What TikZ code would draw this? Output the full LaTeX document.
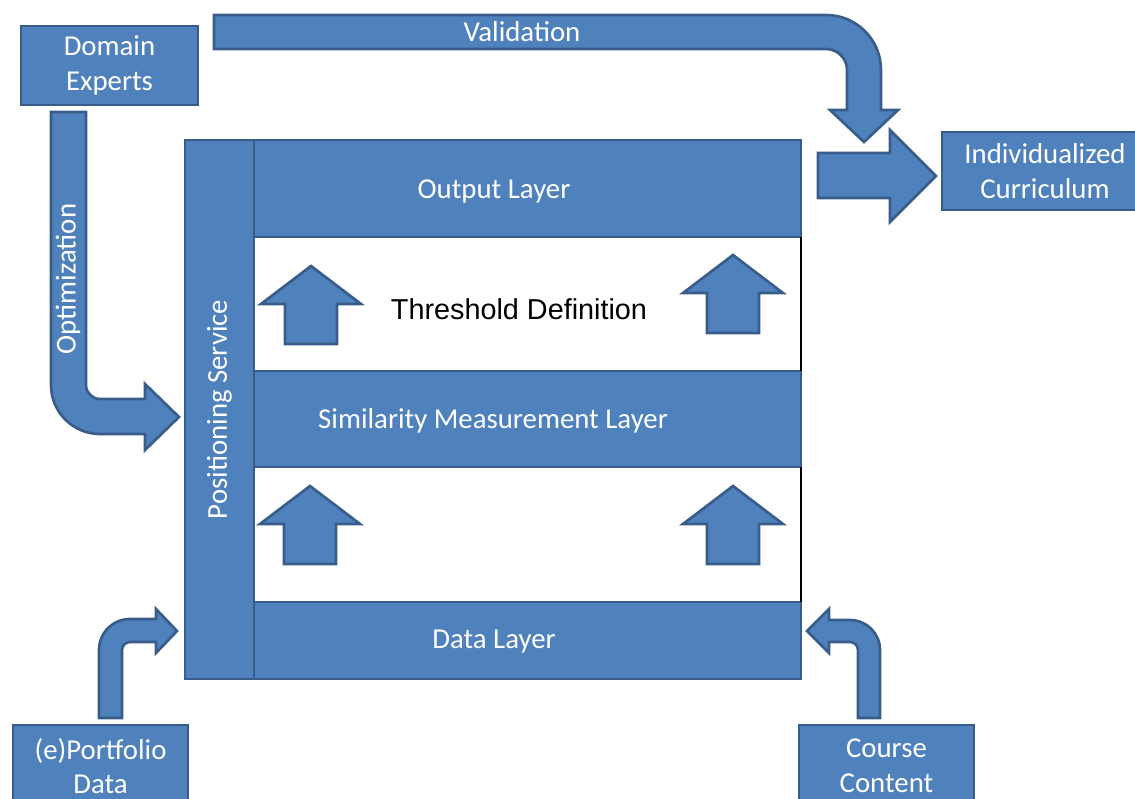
\documentclass[tikz,border=0pt]{standalone}
\usepackage{fontspec}
\setmainfont{Carlito}
\newfontfamily\arialfont{Liberation Sans}
\usetikzlibrary{positioning}
\definecolor{boxblue}{HTML}{4F81BD}
\definecolor{boxedge}{HTML}{385D8A}
\tikzstyle{source} = [
	rectangle, 
	minimum width=132.75pt,
	minimum height=59.25pt, 
	align=center, 
	text centered, 
	text=white,
	draw=boxedge, 
	line width=2pt,
	fill=boxblue]
\tikzstyle{layer} = [
	rectangle, 
	minimum width=462pt, 
	inner sep=0pt,
	outer sep=0pt,
	text centered, 
	text=white,
	draw=boxedge, 
	line width=2pt,
	fill=boxblue]
\tikzstyle{blockarrow} = [draw=boxedge, line width=2pt, fill=boxblue]
\tikzstyle{label} = [text=white, inner sep=0pt]

\begin{document}
\begin{tikzpicture}[x=0.75pt, y=-0.75pt, font=\fontsize{21.6}{26}\selectfont]
\useasboundingbox (0,0) rectangle (1135,799);

% --- Nodes ---
\node (experts) [source] at (109.5,65.5) {Domain\\Experts};
\node (curric) [source, minimum width=154.5pt, minimum height=58.5pt] at (1045,171) {Individualized\\Curriculum};
\node (portfolio) [source, minimum width=131.25pt, minimum height=61.5pt] at (100.5,766) {(e)Portfolio\\Data};
\node (course) [source, minimum width=131.25pt, minimum height=61.5pt] at (886.5,766) {Course\\Content};

\node (outlayer) [layer, minimum height=72.75pt] at (493,188.5) {};
\node (simlayer) [layer, minimum height=72pt] at (493,419) {};
\node (datalayer) [layer, minimum height=57.75pt] at (493,640.5) {};
\node (outtext) [label] at (494,191) {Output Layer};
\node (simtext) [label] at (493,421) {Similarity Measurement Layer};
\node (datatext) [label] at (494,642) {Data Layer};
\node (pos) [layer, minimum width=51.75pt, minimum height=404.25pt] at (219.5,409.5) {};
\node (postext) [label, rotate=90] at (pos.center) {Positioning Service};

\draw [line width=1.2pt] (outlayer.south east) -- (simlayer.north east);
\draw [line width=1.2pt] (simlayer.south east) -- (datalayer.north east);

\node (thresh) [font=\arialfont\fontsize{21.6}{26}\selectfont] at (519,309) {Threshold Definition};

% --- Arrows ---
\foreach \x/\y in {311/266, 733/255, 310/486, 733/486}
	\draw [blockarrow] (\x,\y) -- ++(50,38) -- ++(-24,0) -- ++(0,40) -- ++(-52,0) -- ++(0,-40) -- ++(-24,0) -- cycle;

% validation
\draw [blockarrow] (214,15) -- (826,15) arc[start angle=90, end angle=0, radius=41.25pt]
	-- (881,110) -- (898,110) -- (864,142) -- (830,110) -- (847,110) -- (847,70)
	arc[start angle=0, end angle=90, radius=15.75pt] -- (214,49) -- cycle;
\node (valtext) [label] at (522,32) {Validation};

% optimization
\draw [blockarrow] (51,112) -- (86,112) -- (86,385) arc[start angle=180, end angle=270, radius=10.5pt]
	-- (145,399) -- (145,384) -- (179,417) -- (145,450) -- (145,434) -- (100,434)
	arc[start angle=270, end angle=180, radius=36.75pt] -- cycle;
\node (opttext) [label, rotate=90] at (68,279) {Optimization};

% output
\draw [blockarrow] (818,153) -- (890,153) -- (890,130) -- (936,176) -- (890,222) -- (890,198) -- (818,198) -- cycle;

% portfolio
\draw [blockarrow] (99,718) -- (99,650) arc[start angle=180, end angle=90, radius=23.25pt]
	-- (156,619) -- (156,609) -- (177,631) -- (156,653) -- (156,642) -- (130,642)
	arc[start angle=90, end angle=180, radius=6pt] -- (122,718) -- cycle;

% course content
\draw [blockarrow] (880,718) -- (880,650) arc[start angle=0, end angle=90, radius=22.5pt]
	-- (829,620) -- (829,609) -- (807,631) -- (829,653) -- (829,642) -- (850,642)
	arc[start angle=90, end angle=0, radius=6pt] -- (858,718) -- cycle;

\end{tikzpicture}
\end{document}
